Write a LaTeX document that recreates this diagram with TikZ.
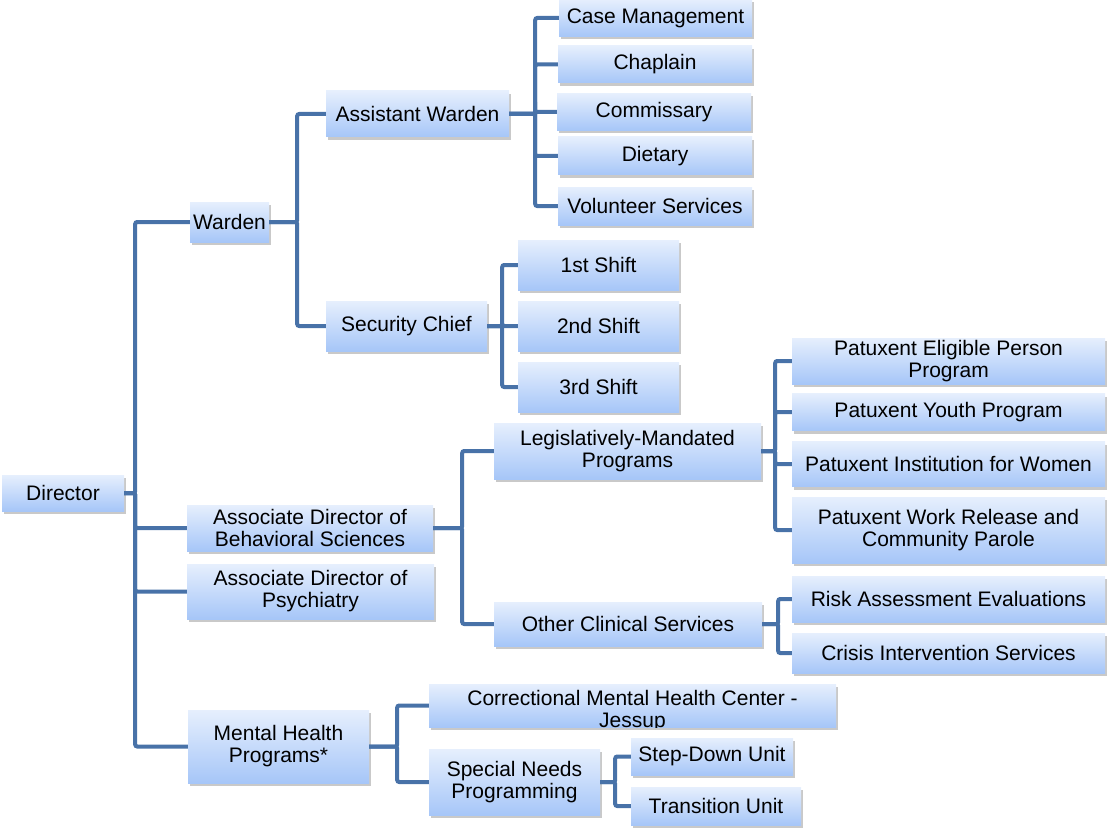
\documentclass[tikz,border=0pt]{standalone}
\usepackage{fontspec}
\setmainfont{Liberation Sans}
\usepackage{tikz}
\usetikzlibrary{positioning,shadows}
\definecolor{linkblue}{HTML}{4872A8}
\definecolor{boxtop}{HTML}{E6EFFD}
\definecolor{boxbottom}{HTML}{A6C6F8}

\begin{document}
\begin{tikzpicture}[x=1pt, y=-1pt,
node distance=61pt, dims/.style 2 args={minimum width=#1pt, minimum height=#2pt},
unitnode/.style={rectangle, inner sep=0pt, align=center, top color=boxtop, bottom color=boxbottom,
 drop shadow={shadow xshift=1.5pt, shadow yshift=-3pt, opacity=0.3, fill=black!70}},
link/.style={draw=linkblue, line width=4pt, rounded corners=2pt}]
\tikzstyle{every node}=[font=\fontsize{21}{22}\selectfont]
\useasboundingbox (0,0) rectangle (1107,829);
\node[unitnode, dims={122}{36}] (1) at (63,493) {Director};
\node[unitnode, dims={79}{40}] (2) at (229.5,222) {Warden};
\node[unitnode, dims={183}{46}] (3) at (417.5,114) {Assistant Warden};
\node[unitnode, dims={193}{37}] (4) at (655.5,18) {Case Management};
\node[unitnode, dims={194}{37}] (5) at (655,64.5) {Chaplain};
\node[unitnode, dims={194}{37}] (6) at (654,112) {Commissary};
\node[unitnode, dims={194}{38}] (7) at (655,156) {Dietary};
\node[unitnode, dims={194}{38}] (8) at (655,206) {Volunteer Services};
\node[unitnode, dims={161}{50}] (9) at (406.5,326) {Security Chief};
\node[unitnode, dims={161}{50}] (10) at (598.5,265) {1st Shift};
\node[unitnode, dims={161}{50}] (11) [below of=10] {2nd Shift};
\node[unitnode, dims={161}{50}] (12) [below of=11] {3rd Shift};
\node[unitnode, dims={246}{46}] (13) at (310,528) {Associate Director of\\Behavioral Sciences};
\node[unitnode, dims={247}{55}] (14) at (310.5,591.5) {Associate Director of\\Psychiatry};
\node[unitnode, dims={181}{73}] (15) at (278.5,746.5) {Mental Health\\Programs*};
\node[unitnode, dims={267}{56}] (16) at (627.5,451) {Legislatively-Mandated\\Programs};
\node[unitnode, dims={268}{44}] (17) at (628,624) {Other Clinical Services};
\node[unitnode, dims={313}{46}] (18) at (948.5,361) {Patuxent Eligible Person\\Program};
\node[unitnode, dims={313}{37}] (19) at (948.5,412) {Patuxent Youth Program};
\node[unitnode, dims={313}{45}] (20) at (948.5,464) {Patuxent Institution for Women};
\node[unitnode, dims={313}{66}] (21) at (948.5,530) {Patuxent Work Release and\\Community Parole};
\node[unitnode, dims={313}{46}] (22) at (948.5,599) {Risk Assessment Evaluations};
\node[unitnode, dims={313}{40}] (23) at (948.5,653) {Crisis Intervention Services};
% text runs past the box bottom and is cut there
\node[unitnode, dims={407}{43}, path picture={
  \node[align=center, yshift=-6pt] at (path picture bounding box.center) {Correctional Mental Health Center -\\Jessup};}]
  (24) at (632.5,705.5) {};
\node[unitnode, dims={171}{66}] (25) at (514.5,782) {Special Needs\\Programming};
\node[unitnode, dims={162}{37}] (26) at (712,756.5) {Step-Down Unit};
\node[unitnode, dims={170}{38}] (27) at (716,806) {Transition Unit};

\draw[link] (1.east) -- ++(11,0) |- (2.west);
\draw[link] (1.east) -- ++(11,0) |- (13.west);
\draw[link] (1.east) -- ++(11,0) |- (14.west);
\draw[link] (1.east) -- ++(11,0) |- (15.west);
\draw[link] (2.east) -- ++(28,0) |- (3.west);
\draw[link] (2.east) -- ++(28,0) |- (9.west);
\draw[link] (3.east) -- ++(26,0) |- (4.west);
\draw[link] (3.east) -- ++(26,0) |- (5.west);
\draw[link] (3.east) -- ++(26,0) |- (6.west);
\draw[link] (3.east) -- ++(26,0) |- (7.west);
\draw[link] (3.east) -- ++(26,0) |- (8.west);
\draw[link] (9.east) -- ++(15,0) |- (10.west);
\draw[link] (9.east) -- ++(15,0) |- (11.west);
\draw[link] (9.east) -- ++(15,0) |- (12.west);
\draw[link] (13.east) -- ++(29,0) |- (16.west);
\draw[link] (13.east) -- ++(29,0) |- (17.west);
\draw[link] (16.east) -- ++(14,0) |- (18.west);
\draw[link] (16.east) -- ++(14,0) |- (19.west);
\draw[link] (16.east) -- ++(14,0) |- (20.west);
\draw[link] (16.east) -- ++(14,0) |- (21.west);
\draw[link] (17.east) -- ++(16,0) |- (22.west);
\draw[link] (17.east) -- ++(16,0) |- (23.west);
\draw[link] (15.east) -- ++(28,0) |- (24.west);
\draw[link] (15.east) -- ++(28,0) |- (25.west);
\draw[link] (25.east) -- ++(15,0) |- (26.west);
\draw[link] (25.east) -- ++(15,0) |- (27.west);
\end{tikzpicture}
\end{document}
